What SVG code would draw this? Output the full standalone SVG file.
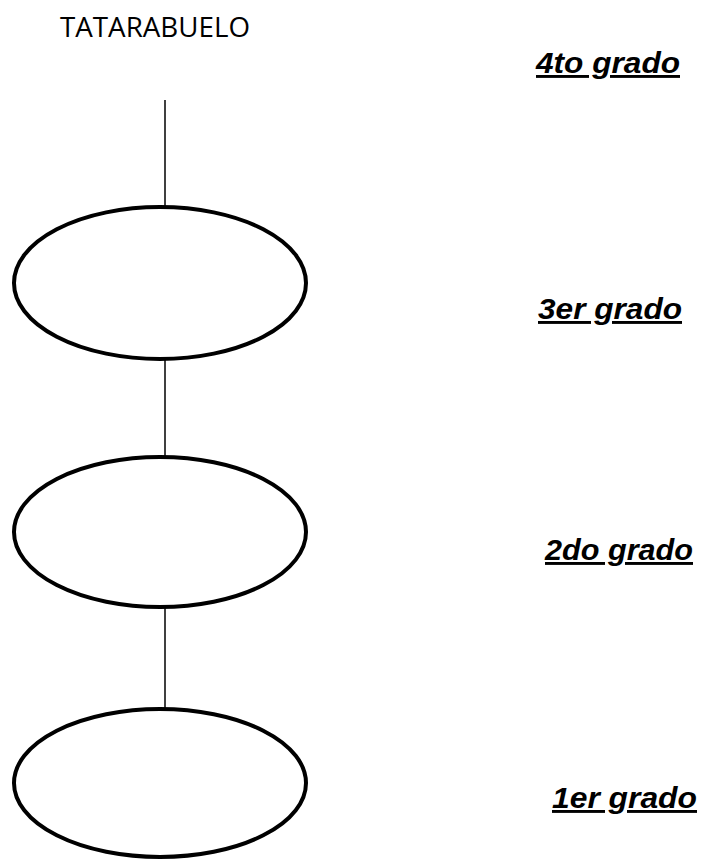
<svg xmlns="http://www.w3.org/2000/svg" width="704" height="859" viewBox="0 0 704 859">
<style>
.node{fill:#fff;stroke:#000;stroke-width:4}
.conn{stroke:#000;stroke-width:1.5}
.title{font-family:"Open Sans","Liberation Sans",sans-serif;font-size:27px;fill:#000}
.grado{font-family:"Liberation Sans",Arial,sans-serif;font-size:29px;font-weight:bold;font-style:italic;text-decoration:underline;text-decoration-thickness:3px;fill:#000}
</style>
<rect width="704" height="859" fill="#fff"/>
<g id="connectors">
<line class="conn" x1="165" y1="100" x2="165" y2="208"/>
<line class="conn" x1="165" y1="349" x2="165" y2="457"/>
<line class="conn" x1="165" y1="603" x2="165" y2="710"/>
</g>
<g id="tatarabuelo"><text class="title" x="60" y="37" textLength="190" lengthAdjust="spacingAndGlyphs">TATARABUELO</text></g>
<g id="node1"><ellipse class="node" cx="160" cy="283" rx="146" ry="76"/></g>
<g id="node2"><ellipse class="node" cx="160" cy="532" rx="146" ry="75"/></g>
<g id="node3"><ellipse class="node" cx="160" cy="783" rx="146" ry="74"/></g>
<g id="label4"><text class="grado" x="536" y="73" textLength="144" lengthAdjust="spacingAndGlyphs">4to grado</text></g>
<g id="label3"><text class="grado" x="538" y="319" textLength="144" lengthAdjust="spacingAndGlyphs">3er grado</text></g>
<g id="label2"><text class="grado" x="545" y="560" textLength="148" lengthAdjust="spacingAndGlyphs">2do grado</text></g>
<g id="label1"><text class="grado" x="552" y="808" textLength="145" lengthAdjust="spacingAndGlyphs">1er grado</text></g>
</svg>
